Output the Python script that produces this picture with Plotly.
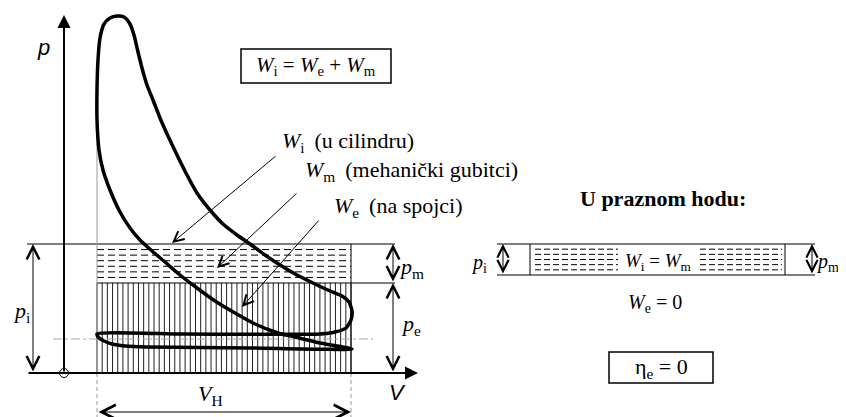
import numpy as np
import plotly.graph_objects as go

# p-V cycle of the engine, V and p in drawing units (origin at the axis corner)
compression_v = [288, 256, 231, 214, 191, 171, 151, 133, 116, 101, 88, 76, 66, 56, 46, 39, 35, 33, 33, 34, 36, 40, 46, 53]
compression_p = [24, 30, 36, 40, 49, 60, 72, 85, 98, 111, 122, 133, 145, 161, 183, 203, 223, 253, 283, 313, 335, 349, 355, 357]
expansion_v = [60, 66, 70, 74, 78, 83, 89, 96, 104, 113, 123, 133, 146, 159, 173, 186, 201, 216, 233, 251, 266, 278, 285, 288, 287, 282, 271, 256]
expansion_p = [356, 349, 338, 321, 305, 288, 273, 255, 237, 218, 198, 180, 163, 149, 138, 129, 118, 108, 98, 89, 82, 77, 71, 62, 53, 45, 41, 39]
exhaust_v = [120, 33]
exhaust_p = [39, 39]
intake_v = [35, 40, 48, 61, 83, 186, 288]
intake_p = [35, 32, 29, 27, 26, 25, 24]

v_tdc = 33          # clearance volume
v_bdc = 287         # V_tdc + V_H
p_i = 129           # mean indicated pressure
p_e = 90            # mean effective pressure
p_atm = 34

# idle run (U praznom hodu)
idle_top = 129
idle_bottom = 98

SERIF = "Liberation Serif, Times New Roman, serif"
SANS = "Liberation Sans, Arial, sans-serif"
GAP = "\u00a0\u2009"

fig = go.Figure()


def line(xs, ys, color="black", width=1, dash=None):
    fig.add_trace(go.Scatter(x=xs, y=ys, mode="lines", hoverinfo="skip",
                             line=dict(color=color, width=width, dash=dash)))


def arrow(x0, y0, x1, y1, both=False, head=5, size=2.5, width=1):
    fig.add_annotation(
        x=x1, y=y1, ax=x0, ay=y0, xref="x", yref="y", axref="x", ayref="y",
        text="", showarrow=True, arrowhead=head, arrowsize=size,
        arrowwidth=width, arrowcolor="black",
        arrowside="end+start" if both else "end",
        startarrowhead=head, startarrowsize=size, standoff=0, startstandoff=0,
    )


def label(x, y, text, size=22, family=SERIF, anchor="center"):
    fig.add_annotation(x=x, y=y, text=text, showarrow=False, xanchor=anchor,
                       font=dict(family=family, size=size, color="black"))


# vertical hatch (W_e)
hx, hy = [], []
for v in np.linspace(v_tdc, v_bdc, 50):
    hx += [v, v, None]
    hy += [0, p_e, None]
line(hx, hy, color="#222222", width=1)

# dashed rows (W_m)
dx, dy = [], []
for p in np.linspace(p_e, p_i, 8)[1:-1]:
    dx += [v_tdc, v_bdc, None]
    dy += [p, p, None]
line(dx, dy, width=1, dash="7px,4px")

# reference lines
line([-37, 331], [p_i, p_i])
line([v_tdc, 331], [p_e, p_e])
line([v_bdc, v_bdc], [0, p_i])
line([v_tdc, v_tdc], [0, 270], color="#999999")
line([v_tdc, v_tdc], [0, -44], color="#999999", dash="4px,3px")
line([v_bdc, v_bdc], [0, -44], color="#999999", dash="4px,3px")
line([-11, 309], [p_atm, p_atm], color="#aaaaaa", dash="dashdot")

# cycle
cyc_v = compression_v + expansion_v + exhaust_v + intake_v
cyc_p = compression_p + expansion_p + exhaust_p + intake_p
fig.add_trace(go.Scatter(x=cyc_v, y=cyc_p, mode="lines", hoverinfo="skip",
                         line=dict(color="black", width=3.5, shape="spline", smoothing=0.6)))

# axes
arrow(-37, 0, 354, 0, head=2, size=1.3, width=2)
arrow(0, 0, 0, 358, head=2, size=1.3, width=2)
fig.add_trace(go.Scatter(x=[0], y=[0], mode="markers", hoverinfo="skip",
                         marker=dict(size=9, color="white", line=dict(color="black", width=1))))
label(-21, 326, "<i>p</i>", family=SANS)
label(333, -19, "<i>V</i>", family=SANS)

# dimension arrows
arrow(-31, 0, -31, p_i, both=True)
label(-43, 61, "<i>p</i><sub>i</sub>")
arrow(329, p_e, 329, p_i, both=True)
label(347, 105, "<i>p</i><sub>m</sub>")
arrow(329, 0, 329, p_e, both=True)
label(347, 48, "<i>p</i><sub>e</sub>")
arrow(v_tdc, -39, v_bdc, -39, both=True, size=2.8)
label(146, -22, "<i>V</i><sub>H</sub>")

# work labels
arrow(213, 218, 108, 130, size=2)
arrow(234, 181, 153, 105, size=2)
arrow(256, 154, 178, 66, size=2)
label(216, 231, "<i>W</i><sub>i</sub>" + GAP + "(u cilindru)", anchor="left")
label(239, 202, "<i>W</i><sub>m</sub>" + GAP + "(mehanički gubitci)", anchor="left")
label(268, 166, "<i>W</i><sub>e</sub>" + GAP + "(na spojci)", anchor="left")

# W_i = W_e + W_m box
fig.add_shape(type="rect", x0=177, x1=327, y0=290, y1=324, line=dict(color="black", width=1.5))
label(252, 307, "<i>W</i><sub>i</sub> = <i>W</i><sub>e</sub> + <i>W</i><sub>m</sub>", size=21)

# idle run diagram
label(599, 175, "<b>U praznom hodu:</b>")
line([433, 751], [idle_top, idle_top])
line([433, 751], [idle_bottom, idle_bottom])
line([466, 466], [idle_bottom, idle_top])
line([721, 721], [idle_bottom, idle_top])
ix, iy = [], []
for p in np.linspace(idle_bottom, idle_top, 7)[1:-1]:
    ix += [471, 554, None, 636, 718, None]
    iy += [p, p, None, p, p, None]
line(ix, iy, width=1, dash="6px,3px")
arrow(439, idle_bottom, 439, idle_top, both=True, size=2.2)
arrow(748, idle_bottom, 748, idle_top, both=True, size=2.2)
label(415, 110, "<i>p</i><sub>i</sub>", size=20)
label(750, 111, "<i>p</i><sub>m</sub>", size=20, anchor="left")
label(594, 111, "<i>W</i><sub>i</sub> = <i>W</i><sub>m</sub>", size=19)
label(591, 70, "<i>W</i><sub>e</sub> = 0", size=20)
fig.add_shape(type="rect", x0=545, x1=649, y0=-10, y1=21, line=dict(color="black", width=1.5))
label(597, 5, "η<sub>e</sub> = 0")

# the page body adds an 8px margin, so the figure is 8px smaller and the ranges start 8 units in
fig.update_layout(
    width=838,
    height=409,
    margin=dict(l=0, r=0, t=0, b=0),
    showlegend=False,
    paper_bgcolor="white",
    plot_bgcolor="white",
    xaxis=dict(range=[-56, 782], visible=False, fixedrange=True),
    yaxis=dict(range=[-44, 365], visible=False, fixedrange=True),
)

fig.write_html("out.html")
